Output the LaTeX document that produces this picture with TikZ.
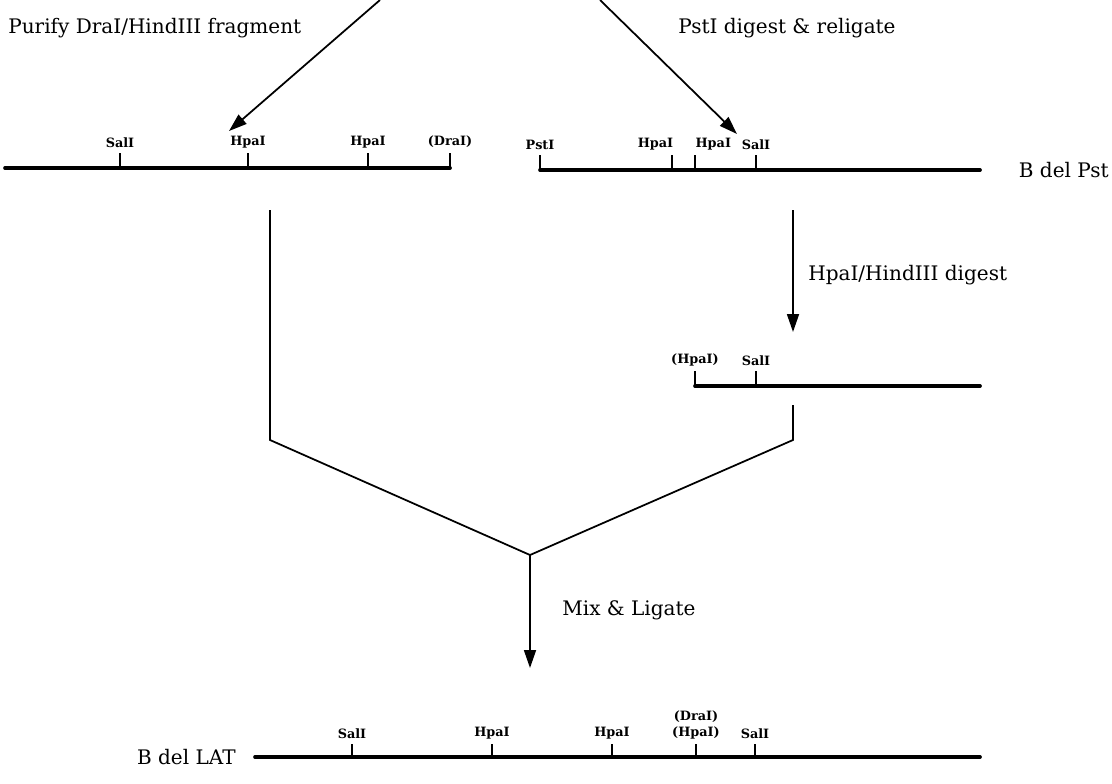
\documentclass[tikz,border=0pt]{standalone}
\usepackage{fontspec}
\setmainfont{DejaVu Serif}
\usetikzlibrary{arrows.meta}

\tikzset{
  dna/.style = {line width=2.1pt, line cap=round},
  cutsite/.style = {line width=0.7pt},
  sitelabel/.style = {font=\bfseries\fontsize{7.3}{8.5}\selectfont, inner sep=1pt, anchor=south, yshift=1.5pt},
  flow/.style = {line width=1pt, -{Triangle[length=3.6mm, width=2.4mm]}},
  joinline/.style = {line width=1pt},
  note/.style = {font=\fontsize{11.4}{13}\selectfont, anchor=west, inner sep=0pt}
}

\begin{document}
\begin{tikzpicture}[x=0.02cm, y=-0.02cm]
	\useasboundingbox (0,0) rectangle (1112,784);

	% starting material
	\coordinate (srcL) at (380,0);
	\coordinate (srcR) at (600,0);
	\coordinate (tipL) at (229,131);
	\coordinate (tipR) at (737,134);
	\draw[flow] (srcL) -- (tipL);
	\draw[flow] (srcR) -- (tipR);
	\node[note] (purify) at (8,28) {Purify DraI/HindIII fragment};
	\node[note] (religate) at (678,28) {PstI digest \& religate};

	% DraI/HindIII fragment
	\draw[dna] (5,168) coordinate (fragA) -- (450,168) coordinate (fragB);
	\foreach \x/\lab in {120/SalI, 248/HpaI, 368/HpaI, 450/{(DraI)}}
		\draw[cutsite] (\x,168) -- (\x,153) node[sitelabel] (fa\x) {\lab};

	% B del Pst
	\draw[dna] (540,170) coordinate (pstA) -- (980,170) coordinate (pstB);
	\draw[cutsite] (540,170) -- (540,155) node[sitelabel] (ps540) {PstI};
	\draw[cutsite] (672,170) -- (672,155) node[sitelabel, anchor=south east, xshift=2pt] (ps672) {HpaI};
	\draw[cutsite] (695,170) -- (695,155) node[sitelabel, anchor=south west, xshift=-1pt] (ps695) {HpaI};
	\draw[cutsite] (756,170) -- (756,155) node[sitelabel] (ps756) {SalI};
	\node[note, anchor=east] (bdelpst) at (1109,170) {B del Pst};

	% HpaI/HindIII digest
	\coordinate (digTop) at (793,210);
	\coordinate (digTip) at (793,332);
	\draw[flow] (digTop) -- (digTip);
	\node[note] (hpadig) at (808,275) {HpaI/HindIII digest};

	\draw[dna] (695,386) coordinate (hpaA) -- (980,386) coordinate (hpaB);
	\foreach \x/\lab in {695/{(HpaI)}, 756/SalI}
		\draw[cutsite] (\x,386) -- (\x,371) node[sitelabel] (hf\x) {\lab};

	% mix both fragments
	\coordinate (legL) at (270,210);
	\coordinate (kneeL) at (270,440);
	\coordinate (legR) at (793,405);
	\coordinate (kneeR) at (793,440);
	\coordinate (meet) at (530,555);
	\coordinate (mixTip) at (530,668);
	\draw[joinline] (legL) -- (kneeL) -- (meet) -- (kneeR) -- (legR);
	\draw[flow] (meet) -- (mixTip);
	\node[note] (mix) at (562,610) {Mix \& Ligate};

	% B del LAT
	\draw[dna] (255,757) coordinate (latA) -- (980,757) coordinate (latB);
	\foreach \x/\lab in {352/SalI, 492/HpaI, 612/HpaI, 696/{(HpaI)}, 755/SalI}
		\draw[cutsite] (\x,757) -- (\x,744) node[sitelabel] (lt\x) {\lab};
	\node[sitelabel, yshift=-1.5pt] (ltdra) at (lt696.north) {(DraI)};
	\node[note, anchor=east] (bdellat) at (236,757) {B del LAT};
\end{tikzpicture}
\end{document}
